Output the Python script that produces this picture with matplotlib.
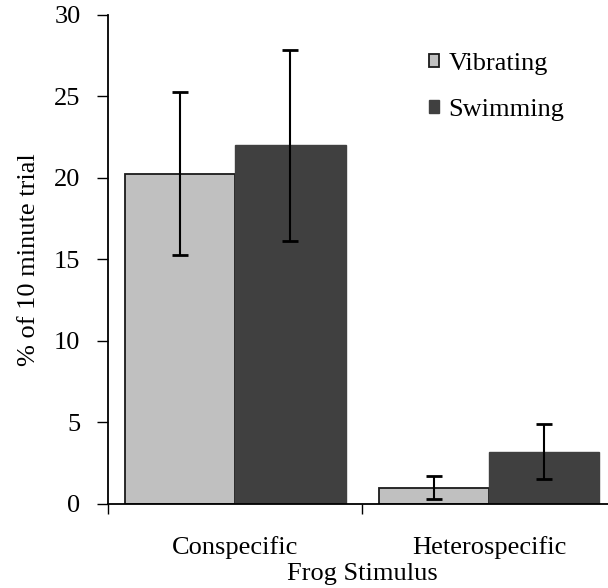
import numpy as np
import matplotlib.pyplot as plt
from matplotlib.ticker import FixedLocator

plt.rcParams["font.family"] = ["Liberation Serif", "DejaVu Serif"]

stimuli = ["Conspecific", "Heterospecific"]
vibrating = [20.25, 1.0]
vibrating_err = [5.0, 0.7]
swimming = [22.0, 3.2]
swimming_err = [5.85, 1.7]

x = np.arange(len(stimuli))
width = 0.435

fig = plt.figure(figsize=(6.08, 5.88), dpi=100)
ax = fig.add_axes([0.178, 0.143, 0.835, 0.832])

ax.bar(x - width / 2, vibrating, width, color="#c0c0c0", edgecolor="#1a1a1a",
       linewidth=1.3, label="Vibrating", zorder=2)
ax.bar(x + width / 2, swimming, width, color="#404040", edgecolor="#404040",
       linewidth=1.0, label="Swimming", zorder=2)
ax.errorbar(x - width / 2, vibrating, yerr=vibrating_err, fmt="none",
            ecolor="black", elinewidth=1.5, capsize=6, capthick=2, zorder=3)
ax.errorbar(x + width / 2, swimming, yerr=swimming_err, fmt="none",
            ecolor="black", elinewidth=1.5, capsize=6, capthick=2, zorder=3)

ax.set_xlim(-0.5, 1.5)
ax.set_ylim(0, 30)
ax.set_yticks(np.arange(0, 31, 5))
ax.set_xticks(x)
ax.set_xticklabels(stimuli)
ax.xaxis.set_minor_locator(FixedLocator([-0.5, 0.5, 1.5]))
ax.tick_params(axis="x", which="major", length=0, pad=23, labelsize=19)
ax.tick_params(axis="x", which="minor", length=7, width=1, direction="out")
ax.tick_params(axis="y", length=8, width=1, direction="out", pad=12, labelsize=19)

ax.set_xlabel("Frog Stimulus", fontsize=19, labelpad=3)
ax.set_ylabel("% of 10 minute trial", fontsize=19, labelpad=10)

for side in ["top", "right"]:
    ax.spines[side].set_visible(False)
for side in ["left", "bottom"]:
    ax.spines[side].set_linewidth(1.3)

ax.legend(loc="upper right", bbox_to_anchor=(0.945, 0.97), frameon=False,
          fontsize=19, handlelength=0.38, handleheight=0.38, handletextpad=0.35,
          labelspacing=0.9)

fig.savefig("out.png", dpi=100)
